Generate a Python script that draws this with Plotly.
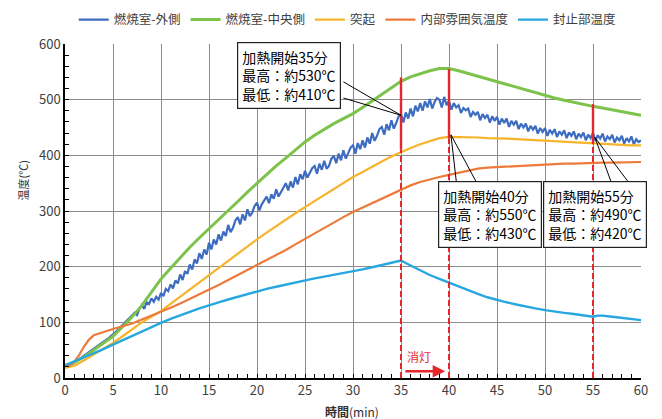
import plotly.graph_objects as go

# ---------------- data ----------------
t_quarter = [i * 0.25 for i in range(241)]
outer = [20, 21, 22, 25, 28, 31, 34, 37, 40, 43, 46, 49, 52, 55, 58, 62,
         65, 68, 71, 75, 78, 82, 86, 91, 95, 99, 104, 108, 112, 117, 113, 124,
         131, 124, 136, 133, 143, 137, 146, 141, 153, 147, 160, 156, 168, 161, 175, 170,
         186, 176, 192, 187, 204, 195, 213, 206, 224, 214, 231, 222, 243, 231, 249, 240,
         258, 247, 263, 255, 275, 262, 270, 283, 289, 276, 294, 283, 303, 291, 297, 309,
         315, 301, 312, 318, 326, 314, 330, 322, 339, 326, 335, 344, 350, 337, 353, 342,
         361, 348, 366, 357, 372, 360, 369, 377, 381, 367, 385, 374, 390, 376, 381, 394,
         399, 386, 403, 391, 409, 394, 404, 414, 418, 403, 422, 411, 427, 414, 432, 421,
         440, 426, 435, 447, 451, 437, 456, 445, 463, 448, 458, 470, 474, 459, 477, 466,
         484, 470, 489, 479, 494, 480, 497, 486, 501, 484, 496, 503, 500, 486, 505, 490,
         498, 482, 494, 486, 490, 476, 485, 481, 484, 469, 478, 473, 478, 463, 474, 467,
         473, 459, 470, 462, 469, 455, 466, 458, 466, 451, 462, 455, 462, 447, 457, 450,
         457, 443, 453, 446, 453, 439, 449, 442, 449, 435, 446, 439, 447, 433, 443, 437,
         445, 431, 441, 435, 443, 429, 439, 433, 441, 427, 437, 431, 440, 426, 436, 430,
         439, 425, 434, 429, 437, 423, 432, 427, 435, 421, 431, 425, 434, 420, 429, 424,
         427]

t_min = list(range(61))
center = [22, 28, 38, 50, 62, 75, 92, 110, 130, 153, 178, 197, 216, 235, 252,
          268, 285, 301, 317, 334, 350, 366, 381, 395, 410, 424, 436, 447, 457,
          466, 475, 486, 498, 510, 522, 533, 541, 547, 552, 556, 556, 552, 547,
          542, 537, 532, 527, 522, 517, 512, 508, 503, 499, 495, 491, 488, 485,
          482, 478, 475, 472]

bump = [18, 22, 32, 42, 52, 63, 75, 88, 100, 110, 120, 133, 146, 159, 172, 184,
        197, 210, 223, 236, 249, 261, 273, 285, 296, 307, 318, 329, 340, 351,
        361, 370, 380, 389, 398, 406, 413, 420, 426, 431, 433, 433, 432, 432,
        431, 431, 430, 429, 428, 427, 426, 425, 424, 423, 422, 422, 421, 420,
        419, 418, 418]

t_inner = [0, 0.5, 1, 1.5, 2, 2.5, 3] + list(range(4, 61))
inner = [22, 24, 30, 42, 57, 69, 77, 83, 88, 93, 98, 105, 112, 118, 126, 134,
         142, 150, 158, 167, 176, 185, 193, 202, 211, 220, 230, 240, 250, 260,
         270, 280, 289, 298, 306, 315, 323, 331, 339, 346, 352, 357, 361, 365,
         369, 373, 376, 378, 379, 380, 381, 382, 383, 384, 384, 385, 385, 386,
         386, 387, 387, 387, 388, 388]

t_seal = list(range(56)) + [55.5] + list(range(56, 61))
seal = [23, 30, 37, 44, 52, 60, 68, 76, 84, 92, 99, 106, 113, 119, 125, 131,
        136, 141, 146, 151, 156, 160, 164, 168, 172, 176, 179, 182, 185, 188,
        191, 195, 199, 203, 207, 211, 202, 193, 185, 178, 171, 164, 157, 151,
        145, 140, 136, 132, 128, 125, 122, 119, 117, 115, 113, 110, 112, 112,
        110, 108, 106, 104]
order = sorted(range(len(t_seal)), key=lambda i: t_seal[i])
t_seal = [t_seal[i] for i in order]
seal = [seal[i] for i in order]

names = ["燃焼室-外側", "燃焼室-中央側", "突起", "内部雰囲気温度", "封止部温度"]
colors = ["#3D6CC0", "#7DC24B", "#F6B42A", "#EC7A3A", "#27A7DF"]

heat_times = [35, 40, 55]
heat_max = [540, 555, 492]
heat_min = [410, 430, 420]
box_texts = ["加熱開始35分<br>最高：約530℃<br>最低：約410℃",
             "加熱開始40分<br>最高：約550℃<br>最低：約430℃",
             "加熱開始55分<br>最高：約490℃<br>最低：約420℃"]

x_ticks = list(range(0, 61, 5))
y_ticks = list(range(0, 601, 100))

FONT = "Noto Sans CJK JP"
RED = "#E5262B"

fig = go.Figure()
fig.add_trace(go.Scatter(x=t_quarter, y=outer, name=names[0], mode="lines",
                         line=dict(color=colors[0], width=2.2)))
fig.add_trace(go.Scatter(x=t_min, y=center, name=names[1], mode="lines",
                         line=dict(color=colors[1], width=3)))
fig.add_trace(go.Scatter(x=t_min, y=bump, name=names[2], mode="lines",
                         line=dict(color=colors[2], width=2.2)))
fig.add_trace(go.Scatter(x=t_inner, y=inner, name=names[3], mode="lines",
                         line=dict(color=colors[3], width=2.2)))
fig.add_trace(go.Scatter(x=t_seal, y=seal, name=names[4], mode="lines",
                         line=dict(color=colors[4], width=2.4)))

shapes = []
for tx, hi, lo in zip(heat_times, heat_max, heat_min):
    shapes.append(dict(type="line", xref="x", yref="y", x0=tx, x1=tx, y0=0, y1=lo,
                       line=dict(color=RED, width=2, dash="6px,3px")))
    shapes.append(dict(type="line", xref="x", yref="y", x0=tx, x1=tx, y0=lo, y1=hi,
                       line=dict(color=RED, width=2.4)))

# callout wedges (leader lines)
wedges = [
    [(35, 472), (29.0, 532), (29.0, 503)],
    [(40.2, 437), (40.8, 347), (43.0, 347)],
    [(55.2, 432), (57.0, 347), (58.9, 347)],
]
for tip, a, b in wedges:
    for p in (a, b):
        shapes.append(dict(type="line", xref="x", yref="y", x0=tip[0], y0=tip[1],
                           x1=p[0], y1=p[1], line=dict(color="black", width=1)))

annos = []
box_pos = [(23.33, 543), (44.32, 293), (55.16, 293)]
for (bx, by), txt in zip(box_pos, box_texts):
    annos.append(dict(x=bx, y=by, xref="x", yref="y", text=txt, showarrow=False,
                      align="left", bgcolor="white", bordercolor="#222222",
                      borderwidth=1.2, borderpad=4,
                      font=dict(family=FONT, size=14, color="black")))
annos.append(dict(x=35.4, y=38, xref="x", yref="y", text="消灯", showarrow=False,
                  xanchor="left", font=dict(family=FONT, size=12, color=RED)))
annos.append(dict(x=39.6, y=12, ax=35.3, ay=12, xref="x", yref="y", axref="x", ayref="y",
                  text="", showarrow=True, arrowhead=2, arrowsize=1, arrowwidth=2.5,
                  arrowcolor=RED))
annos.append(dict(x=-0.091, y=0.59, xref="paper", yref="paper", text="温度(℃)",
                  textangle=-90, showarrow=False,
                  font=dict(family=FONT, size=11, color="#303030")))
annos.append(dict(x=0.498, y=-0.099, xref="paper", yref="paper", text="<b>時間</b>(min)",
                  showarrow=False, yanchor="middle",
                  font=dict(family=FONT, size=12, color="#303030")))

fig.update_layout(
    width=654, height=411,
    margin=dict(l=57, r=21, t=36, b=41, autoexpand=False),
    paper_bgcolor="white", plot_bgcolor="white",
    font=dict(family=FONT, size=13, color="#404040"),
    shapes=shapes,
    annotations=annos,
    showlegend=True,
    legend=dict(orientation="h", x=0.49, xanchor="center",
                y=1.072, yanchor="middle",
                font=dict(family=FONT, size=12.5, color="#404040"),
                itemwidth=30, tracegroupgap=0, bgcolor="rgba(0,0,0,0)"),
    xaxis=dict(range=[0, 60], tickvals=x_ticks, ticktext=[str(v) for v in x_ticks],
               showgrid=True, gridcolor="#8C8C8C", gridwidth=1,
               showline=True, linecolor="black", linewidth=1.5,
               ticks="inside", ticklen=4, tickcolor="black",
               minor=dict(dtick=1, ticks="inside", ticklen=4, tickcolor="black", showgrid=False),
               zeroline=False, tickfont=dict(size=13, color="#404040")),
    yaxis=dict(range=[0, 600], tickvals=y_ticks, ticktext=[str(v) for v in y_ticks],
               showgrid=True, gridcolor="#8C8C8C", gridwidth=1,
               showline=True, linecolor="black", linewidth=1.5,
               ticks="inside", ticklen=4, tickcolor="black",
               minor=dict(dtick=20, ticks="inside", ticklen=4, tickcolor="black", showgrid=False),
               zeroline=False, tickfont=dict(size=13, color="#404040")),
)

fig.write_html("out.html")
